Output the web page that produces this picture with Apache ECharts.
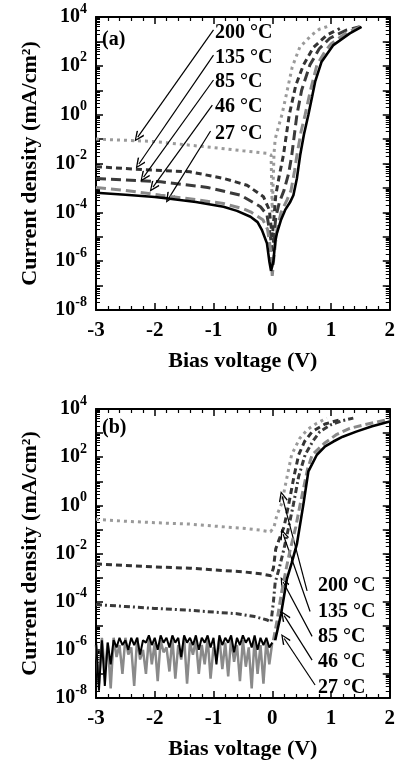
<!DOCTYPE html>
<html><head><meta charset="utf-8">
<script src="https://cdn.jsdelivr.net/npm/echarts@6/dist/echarts.min.js"></script>
<style>html,body{margin:0;padding:0;background:#fff}#c{width:398px;height:761px}</style>
</head><body><div id="c"></div>
<script>
// ---------- DATA (current density given as log10 of mA/cm^2) ----------
const temps = ['200 °C', '135 °C', '85 °C', '46 °C', '27 °C'];
const xTicks = [-3, -2, -1, 0, 1, 2];

// Panel (a)
const a200V = [-3, -2.5, -2, -1.4, -1, -0.5, -0.1, -0.02, 0, 0.03, 0.05, 0.1, 0.165, 0.22, 0.34, 0.47, 0.67, 0.8, 0.95];
const a200L = [-1.0, -1.05, -1.1, -1.25, -1.35, -1.48, -1.58, -1.65, -4.0, -1.6, -1.0, -0.55, 0.0, 0.6, 1.95, 2.77, 3.26, 3.5, 3.62];
const a135V = [-3, -2.2, -1.4, -0.83, -0.43, -0.15, -0.05, 0, 0.03, 0.06, 0.12, 0.19, 0.29, 0.4, 0.53, 0.7, 0.93, 1.15];
const a135L = [-2.13, -2.25, -2.34, -2.61, -2.89, -3.36, -3.9, -5.0, -4.2, -3.3, -2.5, -1.66, 0.0, 1.2, 2.03, 2.75, 3.26, 3.53];
const a85V = [-3, -1.9, -1.1, -0.54, -0.2, -0.09, -0.03, 0, 0.03, 0.06, 0.12, 0.2, 0.28, 0.33, 0.42, 0.5, 0.64, 0.8, 0.98, 1.12, 1.27, 1.49];
const a85L = [-2.61, -2.75, -2.98, -3.3, -3.77, -4.1, -5.0, -5.6, -5.0, -4.2, -3.6, -3.1, -2.4, -1.7, 0.0, 1.0, 2.03, 2.7, 3.13, 3.3, 3.47, 3.6];
const a46V = [-3, -2.5, -1.9, -1.3, -0.83, -0.5, -0.37, -0.16, -0.08, -0.03, 0, 0.03, 0.08, 0.15, 0.25, 0.32, 0.38, 0.42, 0.49, 0.56, 0.65, 0.76, 0.9, 1.0, 1.27, 1.52];
const a46L = [-2.98, -3.1, -3.3, -3.48, -3.64, -3.85, -3.98, -4.3, -4.7, -5.5, -6.6, -5.8, -4.7, -4.0, -3.5, -3.1, -2.3, -1.66, -0.7, 0.0, 1.0, 2.03, 2.6, 2.9, 3.37, 3.62];
const a27V = [-3, -2.5, -2, -1.78, -1.3, -0.83, -0.6, -0.37, -0.25, -0.175, -0.09, -0.05, -0.02, 0.02, 0.05, 0.08, 0.15, 0.22, 0.3, 0.36, 0.42, 0.475, 0.54, 0.615, 0.68, 0.73, 0.84, 1.04, 1.32, 1.52];
const a27L = [-3.2, -3.28, -3.37, -3.43, -3.58, -3.77, -3.94, -4.18, -4.4, -4.73, -5.27, -6.0, -6.4, -6.0, -5.2, -4.85, -4.3, -3.9, -3.6, -3.3, -2.6, -1.66, -0.8, 0.0, 0.75, 1.35, 2.17, 2.85, 3.33, 3.6];

// Panel (b)
const b200V = [-3, -2.5, -2, -1.4, -1, -0.5, -0.2, -0.03, 0.0, 0.03, 0.08, 0.165, 0.22, 0.33, 0.47, 0.6, 0.76, 0.93];
const b200L = [-0.58, -0.66, -0.72, -0.78, -0.86, -0.95, -1.03, -1.1, -1.1, -0.9, -0.4, 0.1, 0.8, 2.1, 2.79, 3.15, 3.41, 3.62];
const b135V = [-3, -2.5, -2, -1.4, -1, -0.5, -0.2, -0.02, 0.02, 0.06, 0.12, 0.2, 0.28, 0.37, 0.45, 0.55, 0.68, 0.9, 1.15];
const b135L = [-2.43, -2.5, -2.56, -2.61, -2.68, -2.76, -2.84, -2.92, -2.6, -1.8, -1.4, -0.9, 0.04, 1.2, 2.1, 2.65, 3.06, 3.38, 3.55];
const b85V = [-3, -2.5, -2, -1.4, -0.9, -0.6, -0.3, -0.1, -0.02, 0.02, 0.05, 0.12, 0.2, 0.28, 0.36, 0.45, 0.56, 0.7, 0.81, 1.0, 1.2, 1.38];
const b85L = [-4.12, -4.2, -4.28, -4.36, -4.45, -4.5, -4.62, -4.75, -4.84, -4.0, -3.2, -2.6, -1.8, -0.9, 0.04, 1.2, 2.1, 2.7, 3.06, 3.35, 3.52, 3.62];
// noisy reverse-bias parts of 46 °C and 27 °C (b)
const bNoiseV = [-3.00, -2.95, -2.90, -2.85, -2.80, -2.75, -2.70, -2.65, -2.60, -2.55, -2.50, -2.45, -2.40, -2.35, -2.30, -2.25, -2.20, -2.15, -2.10, -2.05, -2.00, -1.95, -1.90, -1.85, -1.80, -1.75, -1.70, -1.65, -1.60, -1.55, -1.50, -1.45, -1.40, -1.35, -1.30, -1.25, -1.20, -1.15, -1.10, -1.05, -1.00, -0.95, -0.90, -0.85, -0.80, -0.75, -0.70, -0.65, -0.60, -0.55, -0.50, -0.45, -0.40, -0.35, -0.30, -0.25, -0.20, -0.15, -0.10, -0.05, 0.00];
const b46RevL = [-5.8, -7.4, -5.5, -6.9, -5.7, -7.6, -5.5, -6.3, -5.8, -7.0, -5.5, -6.2, -5.9, -7.5, -5.5, -6.4, -6.0, -7.0, -5.5, -6.6, -5.7, -7.3, -5.6, -6.1, -5.9, -6.9, -5.5, -7.2, -5.8, -6.4, -5.5, -7.4, -5.7, -6.2, -5.6, -7.0, -5.8, -6.6, -5.5, -7.2, -5.9, -6.3, -5.5, -6.8, -5.7, -7.1, -5.5, -6.5, -5.8, -7.3, -5.6, -6.7, -5.9, -7.6, -5.5, -7.0, -5.8, -7.4, -5.6, -6.6, -5.7];
const b27RevL = [-5.6, -7.7, -5.6, -7.5, -5.7, -6.6, -5.6, -5.9, -5.5, -5.8, -5.6, -6.0, -5.5, -5.8, -5.5, -6.2, -5.6, -5.7, -5.4, -5.8, -5.5, -6.0, -5.4, -5.7, -5.5, -5.9, -5.4, -5.7, -5.5, -6.3, -5.4, -5.7, -5.5, -5.8, -5.4, -6.0, -5.5, -5.7, -5.4, -5.9, -5.5, -6.6, -5.4, -5.8, -5.5, -5.7, -5.4, -6.1, -5.5, -5.8, -5.4, -5.7, -5.5, -5.9, -5.4, -6.0, -5.5, -5.8, -5.5, -5.9, -5.7];
const b46FwdV = [0.02, 0.08, 0.16, 0.24, 0.3, 0.4, 0.475, 0.6, 0.68, 0.9, 1.1, 1.32, 1.7, 2.0];
const b46FwdL = [-5.6, -4.8, -3.6, -2.6, -1.9, -0.9, 0.04, 1.5, 2.1, 2.6, 2.95, 3.2, 3.42, 3.58];
const b27FwdV = [0.05, 0.15, 0.25, 0.33, 0.42, 0.53, 0.615, 0.76, 0.9, 1.04, 1.2, 1.43, 1.7, 2.0];
const b27FwdL = [-5.6, -4.5, -3.05, -2.4, -1.6, 0.04, 1.41, 2.1, 2.45, 2.65, 2.85, 3.06, 3.28, 3.48];

// annotation arrows: [V, log10 J] start -> tip
const arrowsA = [[[-1.0, 3.47], [-2.29, -0.92]], [[-1.0, 2.44], [-2.27, -2.02]], [[-1.0, 1.42], [-2.19, -2.56]], [[-1.02, 0.39], [-2.03, -2.97]], [[-1.05, -0.67], [-1.76, -3.42]]];
const arrowsB = [[[0.593, -3.55], [0.169, 0.37]], [[0.644, -4.41], [0.186, -1.2]], [[0.678, -5.44], [0.186, -3.18]], [[0.678, -6.43], [0.203, -4.58]], [[0.729, -7.46], [0.203, -5.53]]];

// ---------- CHART ----------
const FONT = '"Liberation Serif", "Times New Roman", serif';
const pts = (V, L) => V.map((v, i) => [v, Math.pow(10, L[i])]);
const chart = echarts.init(document.getElementById('c'), null, {renderer: 'canvas'});

const grids = [
  {left: 96, top: 17, width: 295, height: 293},
  {left: 96, top: 409, width: 295, height: 291}
];

function xAx(g, pos, lab) {
  return {
    type: 'value', gridIndex: g, position: pos, min: -3, max: 2, interval: 1,
    axisLine: {show: true, onZero: false, lineStyle: {color: '#000', width: 2}},
    axisTick: {show: true, inside: true, length: 7, lineStyle: {color: '#000', width: 1.5}},
    minorTick: {show: true, splitNumber: 5, length: 4, lineStyle: {color: '#000', width: 1.2}},
    splitLine: {show: false}, minorSplitLine: {show: false},
    axisLabel: {show: lab, fontSize: 21, fontWeight: 'bold', fontFamily: FONT, color: '#000', margin: 10,
      formatter: v => xTicks.indexOf(v) >= 0 ? String(v) : ''},
    name: lab ? 'Bias voltage (V)' : '', nameLocation: 'middle', nameGap: 40,
    nameTextStyle: {fontSize: 22, fontWeight: 'bold', fontFamily: FONT, color: '#000'}
  };
}
function yAx(g, pos, lab) {
  return {
    type: 'log', logBase: 10, gridIndex: g, position: pos, min: 1e-8, max: 1e4, interval: 1,
    axisLine: {show: true, onZero: false, lineStyle: {color: '#000', width: 2}},
    axisTick: {show: true, inside: true, length: 7, lineStyle: {color: '#000', width: 1.5}},
    minorTick: {show: true, splitNumber: 9, length: 4, lineStyle: {color: '#000', width: 1}},
    splitLine: {show: false}, minorSplitLine: {show: false},
    axisLabel: {show: lab, margin: 9,
      formatter: function (v) {
        const e = Math.round(Math.log10(v));
        if (e % 2 !== 0) return '';
        return '{b|10}{s|' + e + '}';
      },
      rich: {
        b: {fontSize: 20, fontWeight: 'bold', fontFamily: FONT, color: '#000', lineHeight: 30},
        s: {fontSize: 14, fontWeight: 'bold', fontFamily: FONT, color: '#000', lineHeight: 14, verticalAlign: 'top'}
      }},
    name: lab ? 'Current density (mA/cm²)' : '', nameLocation: 'middle', nameGap: 55, nameRotate: 90,
    nameTextStyle: {fontSize: 22, fontWeight: 'bold', fontFamily: FONT, color: '#000'}
  };
}

function line(name, data, xi, yi, color, width, type, z) {
  return {
    name: name, type: 'line', xAxisIndex: xi, yAxisIndex: yi, data: data,
    showSymbol: false, symbol: 'none', smooth: false, animation: false, silent: true, z: z || 2,
    lineStyle: {color: color, width: width, type: type, cap: 'butt'}
  };
}
const chevron = 'path://M5,0 L10,9 L8.8,10 L5,2.6 L1.2,10 L0,9 Z';
function arrowMark(list) {
  return {
    silent: true, animation: false, symbol: ['none', chevron], symbolSize: [9, 11],
    label: {show: false}, emphasis: {disabled: true},
    lineStyle: {color: '#000', width: 1.2, type: 'solid'},
    data: list.map(a => [{coord: [a[0][0], Math.pow(10, a[0][1])]}, {coord: [a[1][0], Math.pow(10, a[1][1])]}])
  };
}

const sA27 = line('27a', pts(a27V, a27L), 0, 0, '#000', 2.6, 'solid', 6);
sA27.markLine = arrowMark(arrowsA);
const sB27 = line('27b', pts(b27FwdV, b27FwdL), 2, 2, '#000', 2.6, 'solid', 6);
sB27.markLine = arrowMark(arrowsB);

const series = [
  line('200a', pts(a200V, a200L), 0, 0, '#9a9a9a', 3, [3, 4], 2),
  line('135a', pts(a135V, a135L), 0, 0, '#333', 3, [6, 4], 3),
  line('85a', pts(a85V, a85L), 0, 0, '#3a3a3a', 3, [10, 5], 4),
  line('46a', pts(a46V, a46L), 0, 0, '#8a8a8a', 3, [10, 5], 5),
  sA27,
  line('200b', pts(b200V, b200L), 2, 2, '#9a9a9a', 3, [3, 4], 2),
  line('135b', pts(b135V, b135L), 2, 2, '#333', 3, [6, 4], 3),
  line('85b', pts(b85V, b85L), 2, 2, '#3a3a3a', 3, [6, 3, 2, 3], 4),
  line('46bRev', pts(bNoiseV, b46RevL), 2, 2, '#8a8a8a', 2.5, 'solid', 4),
  line('27bRev', pts(bNoiseV, b27RevL), 2, 2, '#000', 2, 'solid', 5),
  line('46bFwd', pts(b46FwdV, b46FwdL), 2, 2, '#8a8a8a', 3, [8, 4], 5),
  sB27
];

const txt = (s, x, y, size) => ({type: 'text', x: x, y: y, silent: true, z: 20,
  style: {text: s, font: 'bold ' + size + 'px ' + FONT, fill: '#000', verticalAlign: 'middle', align: 'left'}});
const labA_y = [33, 58, 82, 107, 134];
const labB_y = [586, 612, 637, 662, 688];
const graphics = [txt('(a)', 102, 40, 20), txt('(b)', 102, 428, 20)]
  .concat(temps.map((t, i) => txt(t, 215, labA_y[i], 20)))
  .concat(temps.map((t, i) => txt(t, 318, labB_y[i], 20)));

chart.setOption({
  animation: false,
  backgroundColor: '#fff',
  grid: grids,
  xAxis: [xAx(0, 'bottom', true), xAx(0, 'top', false), xAx(1, 'bottom', true), xAx(1, 'top', false)],
  yAxis: [yAx(0, 'left', true), yAx(0, 'right', false), yAx(1, 'left', true), yAx(1, 'right', false)],
  series: series,
  graphic: graphics
});
</script></body></html>
